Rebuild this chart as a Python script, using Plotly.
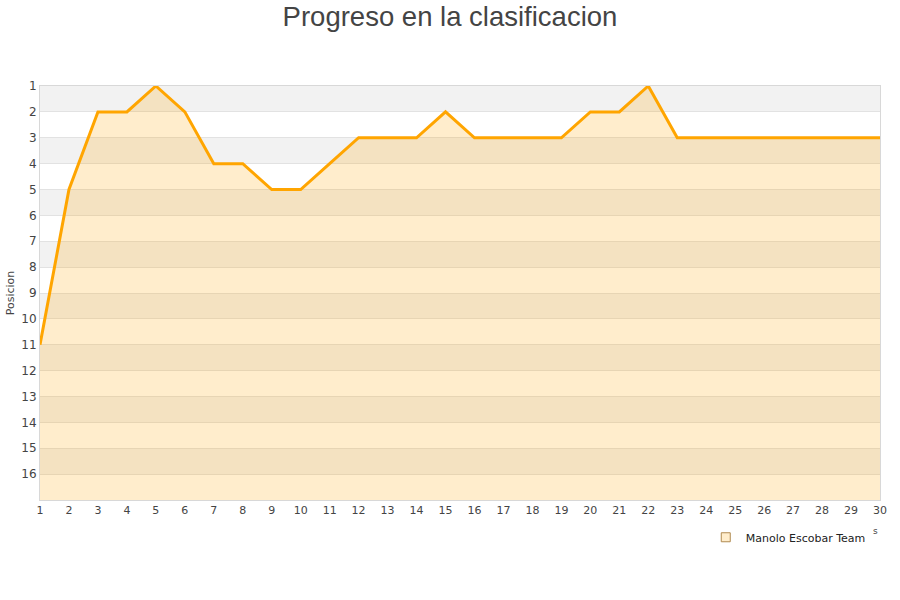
import plotly.graph_objects as go

jornadas = list(range(1, 31))
posiciones = [11, 5, 2, 2, 1, 2, 4, 4, 5, 5, 4, 3, 3, 3, 2, 3, 3, 3, 3, 2, 2, 1, 3, 3, 3, 3, 3, 3, 3, 3]
team = "Manolo Escobar Team"
y_ticks = list(range(1, 17))
x_ticks = list(range(1, 31))
y_bottom = 17

fig = go.Figure()

# baseline for the fill
fig.add_trace(go.Scatter(x=jornadas, y=[y_bottom] * len(jornadas), mode="lines",
                         line=dict(width=0), showlegend=False, hoverinfo="skip"))
fig.add_trace(go.Scatter(x=jornadas, y=posiciones, mode="lines", name=team,
                         line=dict(color="#FFA500", width=3),
                         fill="tonexty", fillcolor="rgba(255,165,0,0.2)",
                         showlegend=False))
# legend marker
fig.add_trace(go.Scatter(x=[None], y=[None], mode="markers", name=team,
                         marker=dict(symbol="square", size=9, color="rgba(255,165,0,0.2)",
                                     line=dict(color="#b08a50", width=1))))

shapes = []
for k in range(1, y_bottom, 2):
    shapes.append(dict(type="rect", xref="paper", yref="y", x0=0, x1=1, y0=k, y1=k + 1,
                       fillcolor="#f2f2f2", line=dict(width=0), layer="below"))

fig.update_layout(
    width=900, height=600,
    margin=dict(l=40, r=20, t=86, b=100),
    paper_bgcolor="white", plot_bgcolor="white",
    title=dict(text="Progreso en la clasificacion", x=0.5, xanchor="center",
               y=1 - 16 / 600, yanchor="middle", yref="container",
               font=dict(family="Liberation Sans, Arial", size=27.5, color="#444")),
    shapes=shapes,
    font=dict(family="DejaVu Sans", size=11, color="#444"),
    xaxis=dict(range=[1, 30], tickmode="array", tickvals=x_ticks, showgrid=False,
               showline=True, linecolor="#d8d8d8", linewidth=1, mirror=True,
               zeroline=False, ticks="", automargin=False,
               tickfont=dict(size=11, color="#444")),
    yaxis=dict(range=[y_bottom, 1], tickmode="array", tickvals=y_ticks,
               showgrid=True, gridcolor="#e2e2e2", gridwidth=1,
               showline=True, linecolor="#d8d8d8", linewidth=1, mirror=True,
               zeroline=False, ticks="", automargin=False,
               tickfont=dict(size=12, color="#444"),
               title=dict(text="Posicion", font=dict(size=11, color="#444"), standoff=4)),
    legend=dict(x=0.989, xanchor="right", y=-0.09, yanchor="middle", orientation="h",
                font=dict(family="DejaVu Sans", size=11, color="#222"),
                bgcolor="rgba(0,0,0,0)"),
    annotations=[dict(text="s", x=(875 - 40) / 840, y=(500 - 531) / 414,
                      xref="paper", yref="paper", showarrow=False,
                      xanchor="center", yanchor="middle",
                      font=dict(size=9, color="#444"))],
)
fig.layout.yaxis.layer = "below traces"

fig.write_html("out.html", config={"displayModeBar": False},
               post_script="document.body.style.margin='0';")
